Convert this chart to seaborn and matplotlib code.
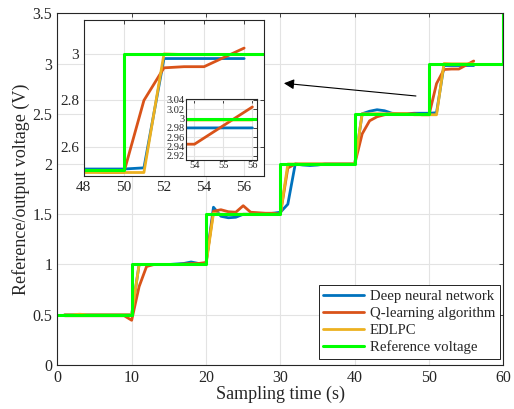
import numpy as np
import pandas as pd
import matplotlib
matplotlib.use("Agg")
import matplotlib.pyplot as plt
import seaborn as sns

# 数据：采样时刻 1..56 s
t = list(range(1, 57))

dnn = [0.5] * 10 + \
      [1.0, 1.0, 1.0, 1.0, 1.0, 1.005, 1.01, 1.025, 1.01, 1.01] + \
      [1.57, 1.48, 1.465, 1.47, 1.5, 1.5, 1.5, 1.5, 1.51, 1.52] + \
      [1.6, 2.0, 1.99, 1.985, 1.99, 2.0, 2.0, 2.0, 2.0, 2.0] + \
      [2.5, 2.525, 2.54, 2.53, 2.505, 2.5, 2.5, 2.505, 2.505, 2.505] + \
      [2.51, 2.98, 2.98, 2.98, 2.98, 2.98]

qlearn = [0.49] * 9 + [0.445] + \
         [0.78, 0.98, 1.0, 1.0, 1.0, 1.0, 1.005, 1.01, 1.01, 1.02] + \
         [1.53, 1.545, 1.525, 1.52, 1.585, 1.52, 1.515, 1.51, 1.51, 1.5] + \
         [1.96, 2.0, 2.0, 2.0, 2.0, 2.0, 2.0, 2.0, 2.0, 2.0] + \
         [2.3, 2.43, 2.47, 2.49, 2.5, 2.5, 2.5, 2.5, 2.49, 2.49] + \
         [2.8, 2.94, 2.945, 2.945, 2.985, 3.025]

edlpc = [0.5, 0.5, 0.505, 0.5, 0.5, 0.5, 0.5, 0.5, 0.5, 0.5] + \
        [1.0] * 10 + \
        [1.51, 1.5, 1.5, 1.5, 1.5, 1.5, 1.5, 1.5, 1.5, 1.5] + \
        [2.0] * 10 + \
        [2.5, 2.5, 2.5, 2.5, 2.5, 2.5, 2.5, 2.49, 2.49, 2.49] + \
        [2.49, 3.0, 2.997, 2.997, 2.997, 2.997]

t_ref = [0, 10, 20, 30, 40, 50, 60]
v_ref = [0.5, 1.0, 1.5, 2.0, 2.5, 3.0, 3.5]

names = ["Deep neural network", "Q-learning algorithm", "EDLPC"]
colors = ["#0072BD", "#D95319", "#EDB120"]
ref_name = "Reference voltage"
ref_color = "#00FF00"

df = pd.DataFrame({
    "t": t * 3,
    "v": dnn + qlearn + edlpc,
    "method": [names[0]] * len(t) + [names[1]] * len(t) + [names[2]] * len(t),
})
df_ref = pd.DataFrame({"t": t_ref, "v": v_ref})

sns.set_style("white")
plt.rcParams["font.family"] = ["Liberation Serif", "DejaVu Serif"]
plt.rcParams["axes.unicode_minus"] = False

fig = plt.figure(figsize=(5.14, 4.09), dpi=100)
ax = fig.add_axes([0.1115, 0.1076, 0.868, 0.86])


def draw(a, legend):
    sns.lineplot(data=df, x="t", y="v", hue="method", hue_order=names,
                 palette=dict(zip(names, colors)), lw=2, ax=a, legend=legend)
    sns.lineplot(data=df_ref, x="t", y="v", color=ref_color, lw=2.2,
                 drawstyle="steps-post", ax=a,
                 label=ref_name if legend else None)
    a.set_xlabel("")
    a.set_ylabel("")


def style(a, size):
    a.grid(True, color="#e3e3e3", lw=0.8)
    a.set_axisbelow(True)
    a.tick_params(direction="in", top=True, right=True, labelsize=size,
                  length=3, width=0.6, colors="#262626")
    for s in a.spines.values():
        s.set_color("#262626")
        s.set_linewidth(0.8)


draw(ax, True)
ax.set_xlim(0, 60)
ax.set_ylim(0, 3.5)
ax.set_xticks(range(0, 61, 10))
ax.set_yticks(np.arange(0, 3.51, 0.5))
ax.set_yticklabels(["0", "0.5", "1", "1.5", "2", "2.5", "3", "3.5"])
style(ax, 11.5)
ax.set_xlabel("Sampling time (s)", fontsize=13, labelpad=0)
ax.set_ylabel("Reference/output voltage (V)", fontsize=13, labelpad=2)

leg = ax.legend(loc="lower right", bbox_to_anchor=(0.992, 0.018),
                borderaxespad=0, fontsize=10.6, frameon=True, fancybox=False,
                edgecolor="black", framealpha=1, handlelength=2.8,
                labelspacing=0.25, borderpad=0.3, handletextpad=0.4)
leg.get_frame().set_linewidth(0.6)

ax.annotate("", xy=(30.1, 2.806), xytext=(48.6, 2.674),
            arrowprops=dict(arrowstyle="-|>", color="black", lw=0.8,
                            mutation_scale=15))

# 放大图 1
ax1 = fig.add_axes([0.163, 0.5697, 0.351, 0.381])
draw(ax1, False)
ax1.set_xlim(48, 57)
ax1.set_ylim(2.475, 3.145)
ax1.set_xticks(range(48, 57, 2))
ax1.set_yticks([2.6, 2.8, 3.0])
ax1.set_yticklabels(["2.6", "2.8", "3"])
style(ax1, 11)

# 放大图 2
ax2 = fig.add_axes([0.362, 0.6088, 0.138, 0.149])
draw(ax2, False)
ax2.set_xlim(53.71, 56.16)
ax2.set_ylim(2.911, 3.042)
ax2.set_xticks([54, 55, 56])
ax2.set_yticks(np.arange(2.92, 3.041, 0.02))
ax2.set_yticklabels(["2.92", "2.94", "2.96", "2.98", "3", "3.02", "3.04"])
style(ax2, 7.5)
ax2.tick_params(pad=1)

fig.savefig("out.png", dpi=100)
